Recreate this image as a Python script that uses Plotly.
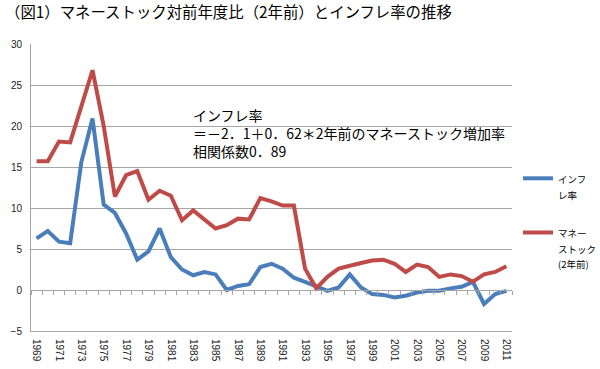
import plotly.graph_objects as go

years = list(range(1969, 2012))
inflation = [6.3, 7.2, 5.9, 5.7, 15.6, 20.9, 10.4, 9.4, 6.9, 3.7,
             4.7, 7.5, 4.0, 2.5, 1.8, 2.2, 1.9, 0.0, 0.5, 0.7,
             2.8, 3.2, 2.6, 1.5, 1.0, 0.4, -0.1, 0.3, 1.9, 0.3,
             -0.5, -0.6, -0.9, -0.7, -0.3, -0.1, -0.1, 0.2, 0.4, 1.0,
             -1.7, -0.5, -0.1]
money_stock = [15.7, 15.7, 18.1, 18.0, 22.4, 26.8, 20.0, 11.4, 14.0, 14.5,
               11.0, 12.1, 11.5, 8.5, 9.7, 8.6, 7.5, 7.9, 8.7, 8.6,
               11.2, 10.8, 10.3, 10.3, 2.6, 0.2, 1.6, 2.6, 3.0, 3.3,
               3.6, 3.7, 3.2, 2.2, 3.1, 2.8, 1.6, 1.9, 1.7, 1.0,
               1.9, 2.2, 2.9]
series_names = ["インフ<br>レ率", "マネー<br>ストック<br>(2年前)"]
title_text = "（図1）マネーストック対前年度比（2年前）とインフレ率の推移"
note_text = ("インフレ率<br>＝－2．1＋0．62＊2年前のマネーストック増加率"
             "<br>相関係数0．89")
tick_years = years[::2]

JP = "Noto Sans CJK JP"
LAT = "Liberation Sans"
GRID = "#A6A6A6"


def small(label):
    # small glyphs, but line spacing taken from the larger legend font
    return "<br>".join('<span style="font-size:9.5px">%s</span>' % part
                       for part in label.split("<br>"))


fig = go.Figure()
fig.add_trace(go.Scatter(x=years, y=inflation, name=small(series_names[0]),
                         mode="lines", line=dict(color="#4A7EBB", width=4),
                         legendgroup="a"))
fig.add_trace(go.Scatter(x=years, y=money_stock, name=small(series_names[1]),
                         mode="lines", line=dict(color="#BE4B48", width=4),
                         legendgroup="b"))
# invisible helper trace so the zero-line category axis is drawn
fig.add_trace(go.Scatter(x=[years[0]], y=[0], xaxis="x2", mode="lines",
                         showlegend=False, hoverinfo="skip",
                         line=dict(color="rgba(0,0,0,0)")))

ymin, ymax = -5, 30
xrange_ = [years[0] - 0.5, years[-1] + 0.5]
fig.update_layout(
    width=600, height=369,
    margin=dict(l=31, r=88, t=44, b=38, autoexpand=False),
    paper_bgcolor="white", plot_bgcolor="white",
    title=dict(text=title_text, x=5 / 600, xref="container", xanchor="left",
               y=1 - 13 / 369, yref="container", yanchor="middle",
               font=dict(family=JP, size=15.4, color="#000")),
    xaxis=dict(range=xrange_, automargin=False,
               tickmode="array", tickvals=tick_years,
               ticktext=[str(y) for y in tick_years],
               tickangle=90, showgrid=False, zeroline=False,
               showline=True, linecolor=GRID, linewidth=1,
               ticks="outside", ticklen=5, tickcolor="rgba(0,0,0,0)",
               tickfont=dict(family=LAT, size=10, color="#222")),
    xaxis2=dict(overlaying="x", range=xrange_, anchor="free", automargin=False,
                position=(0 - ymin) / (ymax - ymin), side="bottom",
                tickmode="array",
                tickvals=[y - 0.5 for y in years] + [years[-1] + 0.5],
                showticklabels=False, ticks="outside", ticklen=4,
                tickcolor=GRID, showgrid=False, zeroline=False,
                showline=True, linecolor=GRID, linewidth=1),
    yaxis=dict(range=[ymin, ymax], dtick=5, tick0=0, automargin=False,
               showgrid=True, gridcolor=GRID, gridwidth=1,
               zeroline=False, showline=True, linecolor=GRID, linewidth=1,
               ticks="outside", ticklen=6, tickcolor="rgba(0,0,0,0)",
               tickfont=dict(family=LAT, size=10, color="#222")),
    legend=dict(x=518 / 600, xref="container", xanchor="left",
                y=1 - 164 / 369, yref="container", yanchor="top",
                valign="top", traceorder="grouped", tracegroupgap=20,
                font=dict(family=JP, size=12, color="#000"),
                bgcolor="rgba(0,0,0,0)", itemwidth=30),
    annotations=[dict(text=note_text, xref="paper", yref="paper",
                      x=(191 - 31) / 481, y=(331 - 103) / 287,
                      xanchor="left", yanchor="top", align="left",
                      showarrow=False,
                      font=dict(family=JP, size=14, color="#000"))],
    showlegend=True,
)

fig.write_html("out.html",
               config={"displayModeBar": False},
               post_script="document.body.style.margin='0';"
                           "document.body.style.padding='0';")
